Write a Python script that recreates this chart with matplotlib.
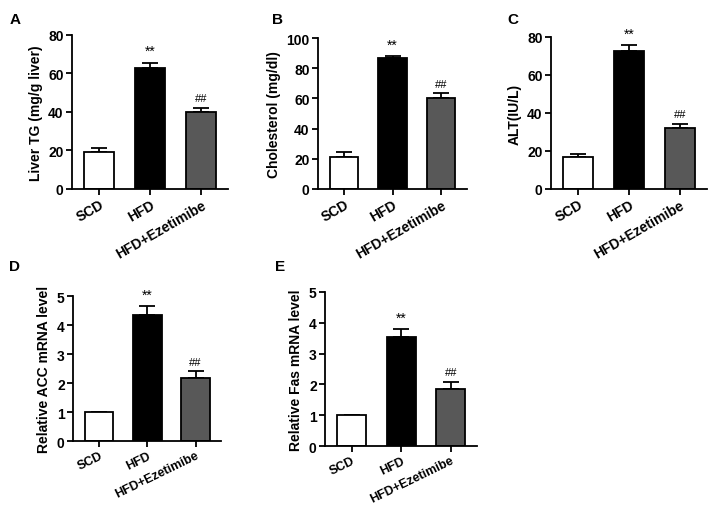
import numpy as np
import matplotlib.pyplot as plt

plt.rcParams['font.family'] = ['Liberation Sans', 'DejaVu Sans']
plt.rcParams['font.weight'] = 'bold'

groups = ["SCD", "HFD", "HFD+Ezetimibe"]
colors = ["white", "black", "#585858"]

# valores (media, error superior)
tg_mean = [19, 63, 40]
tg_err = [2.5, 2.5, 2.2]
chol_mean = [21.5, 86.5, 60.5]
chol_err = [3.0, 1.5, 2.8]
alt_mean = [17, 72.5, 32]
alt_err = [1.6, 3.2, 2.2]
acc_mean = [1.0, 4.35, 2.18]
acc_err = [0.0, 0.3, 0.22]
fas_mean = [1.0, 3.53, 1.85]
fas_err = [0.0, 0.27, 0.23]

panels = [
    # etiqueta, media, error, ylabel, ymax, paso, rect, pos etiqueta, rot, tamaño x
    ("A", tg_mean, tg_err, "Liver TG (mg/g liver)", 80, 20,
     [0.1016, 0.6275, 0.220, 0.302], (0.014, 0.975), 30, 10),
    ("B", chol_mean, chol_err, "Cholesterol (mg/dl)", 100, 20,
     [0.4485, 0.6275, 0.210, 0.296], (0.383, 0.975), 30, 10),
    ("C", alt_mean, alt_err, "ALT(IU/L)", 80, 20,
     [0.777, 0.6275, 0.220, 0.298], (0.715, 0.975), 30, 10),
    ("D", acc_mean, acc_err, "Relative ACC mRNA level", 5, 1,
     [0.103, 0.1333, 0.209, 0.2843], (0.012, 0.49), 26, 9),
    ("E", fas_mean, fas_err, "Relative Fas mRNA level", 5, 1,
     [0.4584, 0.1235, 0.2144, 0.302], (0.388, 0.49), 26, 9),
]

fig = plt.figure(figsize=(7.09, 5.10), dpi=100)
x = np.arange(len(groups))

for letter, mean, err, ylab, ymax, step, rect, lpos, rot, xfs in panels:
    ax = fig.add_axes(rect)
    ax.bar(x, mean, width=0.59, color=colors, edgecolor='black', linewidth=1.3, zorder=2)
    ax.errorbar(x, mean, yerr=[np.zeros(3), err], fmt='none', ecolor='black',
                elinewidth=1.3, capsize=6, capthick=1.3, zorder=1)
    ax.set_xlim(-0.54, 2.53)
    ax.set_ylim(0, ymax)
    ax.set_yticks(np.arange(0, ymax + step / 2, step))
    ax.set_xticks(x)
    ax.set_xticklabels(groups, rotation=rot, ha='right', rotation_mode='anchor',
                       fontsize=xfs, fontweight='bold')
    ax.tick_params(axis='y', labelsize=10, width=1.3, length=4, pad=2)
    ax.tick_params(axis='x', width=1.3, length=4, pad=2)
    for t in ax.get_yticklabels():
        t.set_fontweight('bold')
    ax.set_ylabel(ylab, fontsize=10, fontweight='bold', labelpad=4)
    ax.spines['top'].set_visible(False)
    ax.spines['right'].set_visible(False)
    ax.spines['left'].set_linewidth(1.3)
    ax.spines['bottom'].set_linewidth(1.3)
    off = ymax * 0.03
    ax.text(1, mean[1] + err[1] + off, "**", ha='center', va='bottom',
            fontsize=10, fontweight='normal')
    ax.text(2, mean[2] + err[2] + off, "##", ha='center', va='bottom',
            fontsize=8, fontweight='normal')
    fig.text(lpos[0], lpos[1], letter, fontsize=11, fontweight='bold',
             ha='left', va='top')

fig.savefig("out.png", dpi=100)
